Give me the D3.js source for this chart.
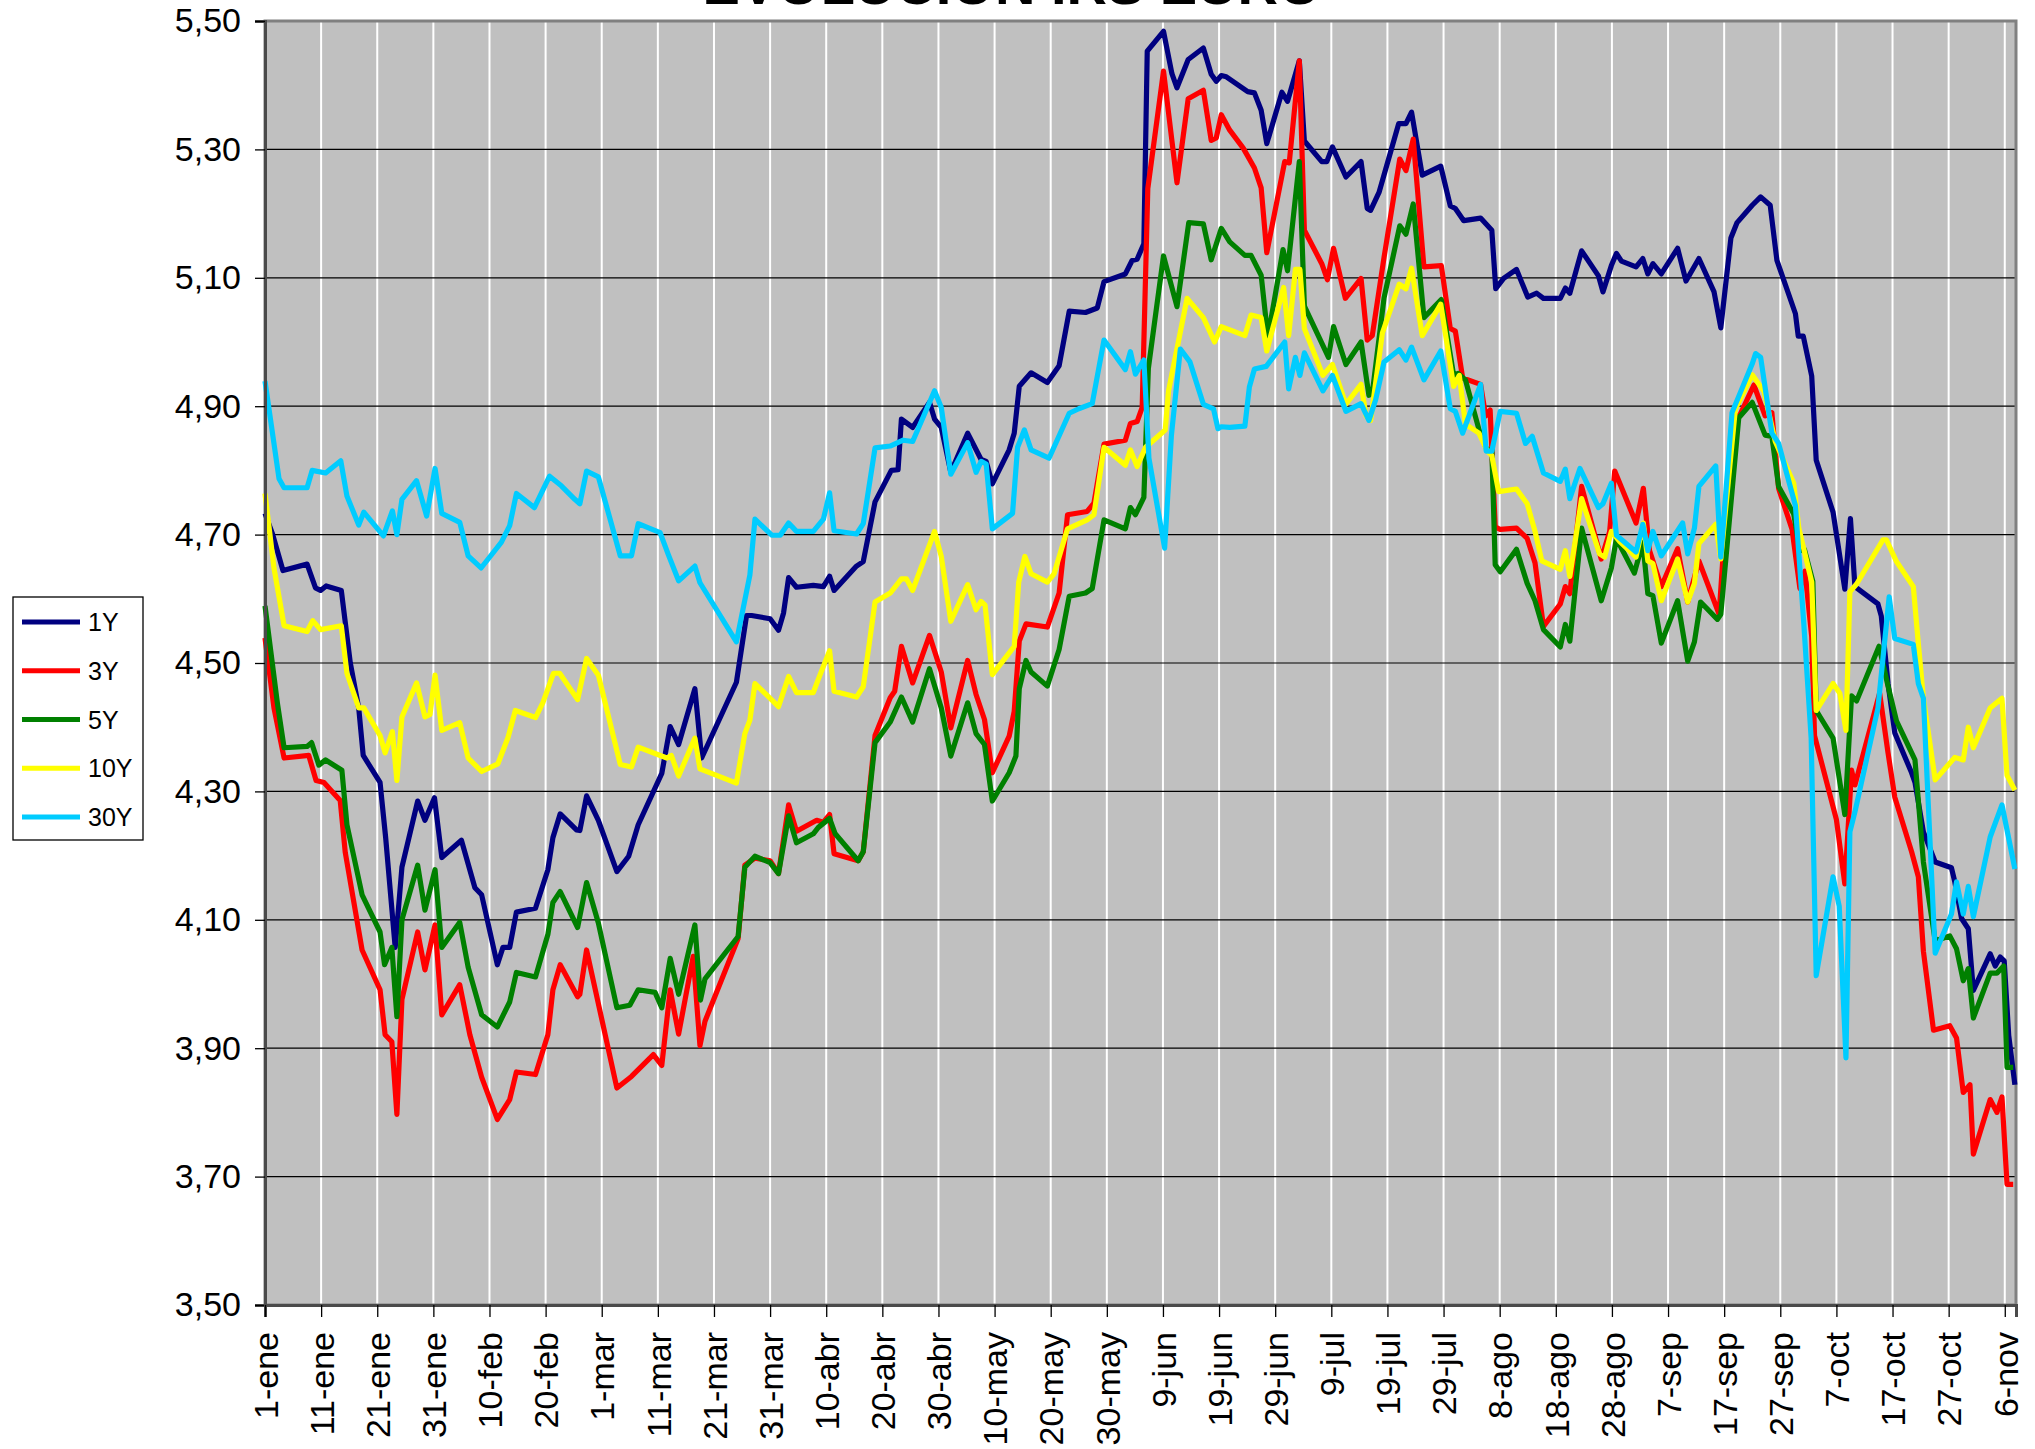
<!DOCTYPE html>
<html>
<head>
<meta charset="utf-8">
<script src="https://d3js.org/d3.v7.min.js"></script>
<style>
  body { margin: 0; background: #fff; }
  svg { display: block; }
  .lbl { font-family: "Liberation Sans", Arial, sans-serif; fill: #000; }
</style>
</head>
<body>
<svg width="2035" height="1449"></svg>
<script>
// days counted from 1-ene-2008, value in %
var rate1Y = [[0,4.733],[1.3,4.702],[3.2,4.644],[7.5,4.654],[9,4.617],[9.9,4.613],[10.9,4.62],[13.6,4.613],[15.2,4.50],[16.7,4.43],[17.5,4.356],[20.5,4.314],[21.5,4.228],[23.2,4.057],[24.4,4.182],[27.2,4.285],[28.5,4.255],[30.2,4.29],[31.5,4.197],[35,4.224],[37.4,4.15],[38.6,4.139],[41.4,4.03],[42.4,4.057],[43.6,4.057],[44.8,4.112],[48.2,4.118],[50.4,4.178],[51.3,4.228],[52.6,4.265],[55.5,4.24],[56.1,4.239],[57.3,4.293],[59.4,4.255],[62.7,4.175],[64.8,4.199],[66.5,4.248],[70.7,4.328],[72.2,4.401],[73.7,4.373],[76.6,4.46],[77.8,4.352],[84,4.47],[85.8,4.574],[86.7,4.574],[90,4.569],[91.5,4.551],[92.4,4.578],[93.3,4.633],[94.7,4.618],[97.7,4.621],[99.5,4.619],[100.6,4.635],[101.4,4.613],[105.4,4.651],[106.6,4.658],[108.7,4.751],[111.6,4.80],[112.8,4.801],[113.4,4.88],[115.4,4.867],[118.4,4.906],[119.3,4.88],[120.5,4.867],[122.2,4.797],[125.2,4.858],[127.6,4.817],[128.5,4.814],[129.6,4.779],[132.6,4.832],[133.5,4.858],[134.4,4.931],[136.5,4.952],[139.4,4.937],[141.5,4.963],[143.3,5.048],[146.2,5.046],[148.3,5.053],[149.5,5.094],[153.3,5.106],[154.5,5.127],[155.4,5.129],[156.6,5.153],[157.2,5.453],[160.1,5.484],[161.6,5.418],[162.5,5.396],[164.5,5.44],[167.2,5.458],[168.6,5.417],[169.5,5.406],[170.4,5.415],[171.3,5.413],[175.1,5.39],[176.3,5.388],[177.5,5.361],[178.5,5.309],[181.2,5.389],[182.2,5.375],[184.3,5.438],[185.2,5.313],[188.3,5.281],[189.2,5.281],[190.2,5.304],[192.6,5.257],[195.3,5.281],[196.4,5.208],[197,5.205],[198.5,5.233],[202,5.34],[203.3,5.34],[204.3,5.358],[206.2,5.26],[209.5,5.274],[211.2,5.212],[212.1,5.208],[213.6,5.189],[216.6,5.193],[218.6,5.174],[219.3,5.083],[220.7,5.099],[223,5.113],[225,5.07],[226.6,5.076],[227.8,5.068],[230.8,5.068],[231.7,5.084],[232.5,5.076],[234.6,5.142],[237.6,5.103],[238.4,5.078],[239.9,5.119],[240.8,5.138],[241.7,5.126],[244.3,5.117],[245.5,5.13],[246.4,5.106],[247.3,5.122],[248.8,5.106],[251.7,5.146],[253.2,5.095],[255.5,5.13],[258.2,5.078],[259.4,5.022],[261.2,5.162],[262.3,5.186],[265,5.213],[266.5,5.226],[268.2,5.213],[269.4,5.127],[272.7,5.044],[273.2,5.009],[274.1,5.009],[275.6,4.947],[276.4,4.816],[279.4,4.735],[281.5,4.615],[282.5,4.725],[283.3,4.619],[287.4,4.592],[288,4.573],[289.2,4.468],[290.4,4.391],[293.4,4.329],[294,4.314],[295.5,4.237],[297.6,4.19],[300.5,4.181],[301.1,4.159],[302.3,4.102],[303.5,4.086],[304.4,3.99],[307.4,4.047],[308.3,4.028],[309.2,4.042],[309.9,4.036],[310.7,3.92],[311.8,3.843]];

var rate3Y = [[0,4.539],[1.6,4.43],[3.4,4.352],[7.8,4.356],[9.1,4.317],[10.5,4.314],[13.4,4.286],[14.3,4.205],[17.3,4.053],[20.5,3.991],[21.4,3.921],[22.6,3.91],[23.5,3.797],[24.4,3.976],[27.2,4.081],[28.5,4.022],[30.3,4.092],[31.5,3.952],[34.7,3.999],[36.5,3.921],[38.6,3.855],[41.4,3.789],[43.6,3.82],[44.8,3.863],[48.2,3.859],[50.4,3.921],[51.3,3.991],[52.6,4.03],[55.7,3.98],[56.1,3.984],[57.3,4.053],[62.7,3.838],[65.3,3.856],[69.2,3.89],[70.7,3.873],[72.2,3.991],[73.7,3.922],[76.3,4.043],[77.5,3.904],[78.4,3.942],[84.3,4.071],[85.5,4.185],[87.3,4.196],[90,4.192],[91.5,4.172],[93.3,4.279],[94.7,4.238],[98.3,4.255],[99.5,4.252],[100.6,4.264],[101.4,4.203],[105.7,4.192],[106.6,4.206],[108.7,4.387],[111.4,4.446],[112.2,4.456],[113.4,4.526],[115.4,4.469],[118.4,4.543],[120.5,4.486],[122.2,4.399],[125.2,4.504],[126.7,4.451],[128.2,4.412],[129.6,4.329],[132.6,4.386],[133.5,4.425],[134.4,4.534],[135.6,4.561],[139.4,4.556],[141.5,4.609],[143,4.731],[146.5,4.736],[147.7,4.749],[149.5,4.841],[153.3,4.847],[154.2,4.873],[155.4,4.876],[156.3,4.898],[157.3,5.239],[160.1,5.422],[162.5,5.248],[164.5,5.379],[167.2,5.392],[168.6,5.314],[169.5,5.318],[170.4,5.354],[171.9,5.33],[174.3,5.302],[176.3,5.271],[177.5,5.24],[178.5,5.139],[181.7,5.281],[182.5,5.279],[184.3,5.438],[185.2,5.174],[188.3,5.122],[189.3,5.097],[190.4,5.146],[192.5,5.068],[195.3,5.099],[196.4,5.003],[197.3,5.01],[199.4,5.132],[202.2,5.285],[203.3,5.267],[204.6,5.316],[206.5,5.117],[209.6,5.119],[211.2,5.021],[212.1,5.017],[213.4,4.944],[216.6,4.934],[217.5,4.885],[218.3,4.894],[219.2,4.712],[220.1,4.708],[223,4.71],[224.9,4.694],[226.3,4.656],[227.8,4.557],[230.8,4.592],[231.7,4.619],[232.5,4.608],[234.6,4.775],[238.1,4.662],[239.6,4.705],[240.5,4.799],[244.3,4.718],[245.6,4.772],[246.7,4.675],[248.8,4.619],[251.7,4.678],[253.5,4.595],[255.5,4.659],[259.1,4.576],[261.4,4.874],[262.9,4.888],[265.3,4.933],[267.3,4.885],[268.5,4.89],[269.7,4.772],[272.1,4.708],[273.5,4.616],[274.4,4.643],[275.6,4.541],[276.1,4.387],[280,4.256],[281.5,4.156],[282.7,4.333],[283.3,4.31],[287.7,4.453],[289.2,4.36],[290.4,4.291],[293.4,4.206],[294.6,4.167],[295.5,4.051],[297.3,3.928],[300.2,3.935],[301.4,3.916],[302.6,3.831],[303.8,3.843],[304.4,3.735],[307.4,3.82],[308.6,3.80],[309.5,3.824],[310.4,3.688],[311.5,3.688]];

var rate5Y = [[0,4.589],[2.2,4.438],[3.4,4.368],[7.5,4.37],[8.3,4.376],[9.6,4.341],[10.8,4.349],[13.7,4.333],[14.6,4.248],[17.3,4.139],[20.5,4.081],[21.3,4.03],[22.6,4.057],[23.5,3.949],[24.4,4.10],[27.2,4.185],[28.5,4.115],[30.3,4.178],[31.5,4.057],[34.7,4.096],[36.2,4.026],[38.6,3.952],[41.4,3.933],[43.6,3.972],[44.8,4.018],[48.2,4.011],[50.4,4.077],[51.3,4.127],[52.6,4.144],[55.7,4.088],[57.3,4.158],[59.4,4.095],[62.7,3.963],[65,3.967],[66.5,3.991],[69.5,3.987],[70.7,3.963],[72.2,4.04],[73.7,3.984],[76.6,4.092],[77.6,3.975],[78.4,4.008],[84.3,4.074],[85.5,4.182],[87.3,4.199],[90,4.189],[91.5,4.172],[93.3,4.262],[94.7,4.22],[97.7,4.234],[98.6,4.244],[100.6,4.258],[101.6,4.234],[105.7,4.192],[106.6,4.206],[108.7,4.376],[111.4,4.408],[113.4,4.447],[115.4,4.408],[118.4,4.491],[120.5,4.43],[122.2,4.355],[125.2,4.438],[126.7,4.39],[128.2,4.373],[129.6,4.285],[132.6,4.329],[133.8,4.355],[134.4,4.46],[135.6,4.504],[136.5,4.486],[139.4,4.464],[141.5,4.521],[143.3,4.604],[146.2,4.609],[147.4,4.616],[149.5,4.723],[153.3,4.709],[154.2,4.742],[155.1,4.731],[156.6,4.758],[157.4,4.959],[160.1,5.134],[162.5,5.055],[164.6,5.186],[167.2,5.184],[168.6,5.128],[170.4,5.177],[171.9,5.156],[174.6,5.135],[175.7,5.135],[177.5,5.104],[178.7,5.007],[181.4,5.144],[182.2,5.111],[184.3,5.281],[185.2,5.056],[189.5,4.976],[190.4,5.024],[192.6,4.965],[195.3,5.0],[196.7,4.917],[197.3,4.92],[199.4,5.069],[202.2,5.181],[203.3,5.168],[204.6,5.215],[206.5,5.038],[209.6,5.066],[211.8,4.948],[212.6,4.951],[213.9,4.941],[216.3,4.864],[217.8,4.83],[218.6,4.833],[219.2,4.653],[220.1,4.642],[223,4.677],[224.9,4.624],[226.3,4.597],[227.8,4.552],[230.8,4.525],[231.7,4.56],[232.5,4.534],[234.6,4.71],[238.1,4.597],[239.9,4.648],[240.8,4.694],[244,4.64],[245.5,4.688],[246.4,4.608],[247.3,4.605],[248.8,4.531],[251.7,4.597],[253.5,4.503],[254.7,4.533],[255.8,4.595],[258.8,4.568],[259.4,4.576],[262.6,4.882],[265,4.906],[267.3,4.855],[268.5,4.853],[269.7,4.775],[270.9,4.756],[272.4,4.732],[273.5,4.675],[274.3,4.677],[275.8,4.627],[276.4,4.426],[279.4,4.383],[281.5,4.264],[282.7,4.449],[283.6,4.441],[287.6,4.526],[289.2,4.464],[290.7,4.41],[294,4.349],[295.5,4.19],[297.6,4.067],[300.2,4.075],[301.4,4.055],[302.6,4.005],[303.5,4.024],[304.4,3.947],[307.4,4.017],[308.6,4.017],[309.8,4.028],[310.4,3.87],[311.5,3.87]];

var rate10Y = [[0,4.764],[1.6,4.648],[3.4,4.558],[7.5,4.549],[8.5,4.566],[9.9,4.552],[13.6,4.558],[14.6,4.484],[16.7,4.43],[17.6,4.43],[20.5,4.387],[21.4,4.36],[22.7,4.393],[23.5,4.317],[24.4,4.416],[27,4.469],[28.5,4.416],[29.4,4.42],[30.3,4.481],[31.5,4.395],[34.7,4.407],[36.2,4.352],[38.6,4.331],[41.5,4.343],[43.3,4.384],[44.6,4.426],[48.2,4.415],[49.5,4.438],[51.4,4.484],[52.5,4.484],[55.7,4.443],[57.3,4.507],[59.4,4.481],[63.3,4.342],[65.3,4.338],[66.5,4.369],[71.6,4.352],[72.4,4.356],[73.7,4.324],[76.6,4.383],[77.5,4.335],[84,4.313],[85.5,4.39],[86.4,4.411],[87.3,4.468],[91.5,4.432],[93.3,4.479],[94.7,4.454],[97.7,4.454],[98.6,4.475],[100.6,4.519],[101.4,4.456],[105.4,4.447],[106.6,4.463],[108.7,4.595],[111.4,4.609],[113.4,4.631],[114.3,4.631],[115.4,4.613],[119.3,4.705],[120.5,4.666],[122.2,4.565],[125.2,4.622],[126.7,4.583],[127.6,4.596],[128.3,4.59],[129.6,4.482],[133.5,4.526],[134.3,4.626],[135.4,4.666],[136.5,4.639],[139.4,4.626],[140.6,4.639],[143,4.709],[146.5,4.723],[147.7,4.731],[149.5,4.836],[153.3,4.808],[154.2,4.832],[155.4,4.806],[156.9,4.836],[160.4,4.863],[161,4.924],[164.3,5.068],[167.2,5.038],[169.2,5.0],[170.4,5.024],[174.6,5.01],[175.7,5.042],[177.5,5.038],[178.5,4.986],[181.5,5.085],[182.4,5.01],[183.6,5.113],[184.4,5.113],[185.2,5.021],[188.5,4.948],[190.2,4.965],[192.6,4.903],[195.3,4.934],[196.2,4.885],[197,4.878],[199.1,5.014],[202.1,5.09],[203.3,5.083],[204.3,5.115],[206.2,5.01],[209.5,5.059],[211.8,4.931],[212.8,4.948],[213.9,4.872],[216.3,4.858],[217.8,4.83],[218.6,4.823],[219.8,4.767],[223,4.771],[224.9,4.748],[226.3,4.705],[227.5,4.659],[230.8,4.646],[231.7,4.675],[232.5,4.635],[234.6,4.756],[237.8,4.67],[238.7,4.665],[239.9,4.705],[241.4,4.689],[244.3,4.665],[245.6,4.718],[246.4,4.659],[247.3,4.655],[248.8,4.597],[251.7,4.662],[253.5,4.595],[254.7,4.624],[255.5,4.686],[258.5,4.716],[259.4,4.662],[262,4.896],[265,4.949],[267.1,4.923],[269.1,4.845],[272.4,4.78],[273.3,4.71],[275.6,4.626],[276.4,4.426],[279.4,4.468],[280.6,4.453],[281.7,4.395],[282.4,4.611],[283.6,4.623],[288.3,4.692],[288.9,4.692],[290.7,4.658],[293.7,4.619],[294.6,4.53],[295.5,4.445],[297.6,4.318],[301.1,4.353],[302.6,4.349],[303.5,4.40],[304.4,4.368],[307.4,4.43],[309.5,4.445],[310.4,4.325],[311.8,4.302]];

var rate30Y = [[0,4.939],[2.5,4.787],[3.4,4.773],[7.5,4.773],[8.4,4.80],[10.8,4.796],[13.5,4.815],[14.6,4.76],[16.7,4.715],[17.6,4.735],[21.1,4.698],[22.7,4.737],[23.5,4.70],[24.4,4.755],[27,4.784],[28.8,4.729],[30.3,4.803],[31.5,4.733],[34.7,4.719],[36.2,4.667],[38.5,4.648],[42.1,4.688],[43.6,4.714],[44.8,4.764],[48,4.742],[50.7,4.791],[52.8,4.776],[55.2,4.755],[56.1,4.748],[57.3,4.799],[59.4,4.79],[63.3,4.667],[65.3,4.667],[66.5,4.717],[70.4,4.703],[71.9,4.668],[73.7,4.628],[76.6,4.651],[77.5,4.625],[84,4.533],[86.4,4.637],[87.3,4.724],[90.3,4.699],[91.8,4.699],[93.3,4.718],[94.7,4.705],[97.7,4.705],[99.5,4.724],[100.6,4.765],[101.4,4.706],[105.4,4.701],[106.6,4.717],[108.7,4.835],[111.4,4.838],[113.7,4.847],[115.4,4.845],[119.3,4.924],[120.5,4.898],[122.2,4.794],[125.2,4.843],[126.7,4.797],[127.6,4.814],[128.5,4.81],[129.6,4.709],[133.2,4.733],[134.1,4.836],[135.3,4.863],[136.5,4.832],[139.7,4.819],[143.3,4.889],[145,4.896],[147.4,4.904],[149.5,5.003],[153.3,4.957],[154.2,4.985],[155.1,4.95],[156.6,4.972],[157.5,4.819],[160.3,4.679],[161.5,4.854],[163.1,4.989],[164.8,4.969],[167.2,4.903],[169,4.896],[169.8,4.865],[170.4,4.868],[171.9,4.867],[174.6,4.869],[175.4,4.93],[176.3,4.958],[178.4,4.962],[181.7,5.0],[182.4,4.927],[183.6,4.976],[184.4,4.948],[185.2,4.983],[188.5,4.924],[190.2,4.948],[192.6,4.892],[195.3,4.904],[196.7,4.878],[197.9,4.91],[199.4,4.969],[202.1,4.988],[203.3,4.972],[204.3,4.992],[206.5,4.941],[209.5,4.986],[211.2,4.896],[212.1,4.892],[213.4,4.858],[216.6,4.934],[217.6,4.83],[218.6,4.83],[220.1,4.892],[223,4.889],[224.6,4.842],[225.8,4.853],[227.8,4.796],[230.8,4.783],[231.7,4.802],[232.5,4.756],[234.3,4.803],[237.6,4.742],[238.4,4.748],[239.9,4.78],[240.8,4.699],[244.3,4.673],[245.5,4.716],[246.4,4.675],[247.3,4.705],[248.8,4.667],[252.6,4.718],[253.5,4.67],[254.7,4.71],[255.5,4.775],[258.5,4.807],[259.4,4.665],[261.4,4.89],[265,4.966],[265.6,4.982],[266.5,4.976],[268.5,4.858],[269.7,4.842],[272.7,4.745],[274.2,4.56],[275.5,4.383],[276.4,4.013],[279.4,4.167],[280.5,4.121],[281.7,3.885],[282.4,4.237],[283.3,4.268],[287.4,4.43],[289.4,4.603],[290.4,4.538],[293.7,4.529],[294.6,4.468],[295.5,4.445],[297.6,4.048],[300.5,4.109],[301.4,4.159],[302.6,4.109],[303.5,4.152],[304.4,4.105],[307.4,4.229],[309.5,4.279],[311.8,4.179]];

var seriesNames = ["1Y", "3Y", "5Y", "10Y", "30Y"];
var seriesData = [rate1Y, rate3Y, rate5Y, rate10Y, rate30Y];
var seriesColors = ["#000080", "#FF0000", "#008000", "#FFFF00", "#00CCFF"];

var xTickDays = d3.range(0, 311, 10);
var xTickLabels = ["1-ene","11-ene","21-ene","31-ene","10-feb","20-feb","1-mar","11-mar","21-mar","31-mar",
    "10-abr","20-abr","30-abr","10-may","20-may","30-may","9-jun","19-jun","29-jun","9-jul","19-jul","29-jul",
    "8-ago","18-ago","28-ago","7-sep","17-sep","27-sep","7-oct","17-oct","27-oct","6-nov"];
var yTicks = [3.5, 3.7, 3.9, 4.1, 4.3, 4.5, 4.7, 4.9, 5.1, 5.3, 5.5];
var title = "EVOLUCIÓN IRS EURO";

var plot = {left: 265, right: 2016, top: 21, bottom: 1305};

var x = d3.scaleLinear().domain([0, 312]).range([plot.left, plot.right]);
var y = d3.scaleLinear().domain([3.5, 5.5]).range([plot.bottom, plot.top]);

var es = d3.formatLocale({decimal: ",", thousands: ".", grouping: [3], currency: ["", " €"]});
var fmtY = es.format(".2f");

var svg = d3.select("svg");

// plot area
svg.append("rect")
    .attr("x", plot.left).attr("y", plot.top)
    .attr("width", plot.right - plot.left).attr("height", plot.bottom - plot.top)
    .attr("fill", "#C0C0C0");

// vertical grid (white)
svg.append("g").selectAll("line")
    .data(xTickDays.slice(1))
    .enter().append("line")
    .attr("x1", d => x(d)).attr("x2", d => x(d))
    .attr("y1", plot.top).attr("y2", plot.bottom)
    .attr("stroke", "#ffffff").attr("stroke-width", 2);

// horizontal grid (black)
svg.append("g").selectAll("line")
    .data(yTicks.slice(1, -1))
    .enter().append("line")
    .attr("x1", plot.left).attr("x2", plot.right)
    .attr("y1", d => y(d)).attr("y2", d => y(d))
    .attr("stroke", "#000").attr("stroke-width", 1.2);

// plot border
svg.append("rect")
    .attr("x", plot.left).attr("y", plot.top)
    .attr("width", plot.right - plot.left).attr("height", plot.bottom - plot.top)
    .attr("fill", "none").attr("stroke", "#808080").attr("stroke-width", 3);

// series
var line = d3.line().x(d => x(d[0])).y(d => y(d[1]));
svg.append("g").selectAll("path")
    .data(seriesData)
    .enter().append("path")
    .attr("d", d => line(d))
    .attr("fill", "none")
    .attr("stroke", (d, i) => seriesColors[i])
    .attr("stroke-width", 5.2)
    .attr("stroke-linejoin", "round");

// axes
var yAxis = d3.axisLeft(y).tickValues(yTicks).tickFormat(fmtY).tickSize(10).tickPadding(14);
var gy = svg.append("g")
    .attr("transform", "translate(" + [plot.left, 0] + ")")
    .call(yAxis);
gy.select(".domain").attr("stroke", "#4a4a4a").attr("stroke-width", 3);
gy.selectAll(".tick line").attr("stroke", "#000").attr("stroke-width", 1.3);
gy.selectAll(".tick text")
    .attr("class", "lbl")
    .style("font-size", "34px");

var xAxis = d3.axisBottom(x).tickValues(xTickDays).tickFormat((d, i) => xTickLabels[i]).tickSize(12);
var gx = svg.append("g")
    .attr("transform", "translate(" + [0, plot.bottom] + ")")
    .call(xAxis);
gx.select(".domain").attr("stroke", "#4a4a4a").attr("stroke-width", 3);
gx.selectAll(".tick line").attr("stroke", "#000").attr("stroke-width", 1.3);
gx.selectAll(".tick text")
    .attr("class", "lbl")
    .style("font-size", "34px")
    .attr("text-anchor", "end")
    .attr("transform", "rotate(-90)")
    .attr("x", -27)
    .attr("y", 0)
    .attr("dy", "0.36em");

// title (partly off the top)
svg.append("text")
    .attr("class", "lbl")
    .attr("x", 1012).attr("y", 4)
    .attr("text-anchor", "middle")
    .style("font-size", "56px")
    .style("font-weight", "bold")
    .text(title);

// legend
var legend = svg.append("g");
legend.append("rect")
    .attr("x", 13).attr("y", 597)
    .attr("width", 130).attr("height", 243)
    .attr("fill", "#fff").attr("stroke", "#000").attr("stroke-width", 1.3);

var legendY = d3.scalePoint().domain(seriesNames).range([622, 817]);
var items = legend.selectAll("g.item")
    .data(seriesNames)
    .enter().append("g").attr("class", "item");
items.append("line")
    .attr("x1", 22).attr("x2", 80)
    .attr("y1", d => legendY(d)).attr("y2", d => legendY(d))
    .attr("stroke", (d, i) => seriesColors[i])
    .attr("stroke-width", 5);
items.append("text")
    .attr("class", "lbl")
    .attr("x", 88).attr("y", d => legendY(d))
    .attr("dy", "0.36em")
    .style("font-size", "25px")
    .text(d => d);
</script>
</body>
</html>
